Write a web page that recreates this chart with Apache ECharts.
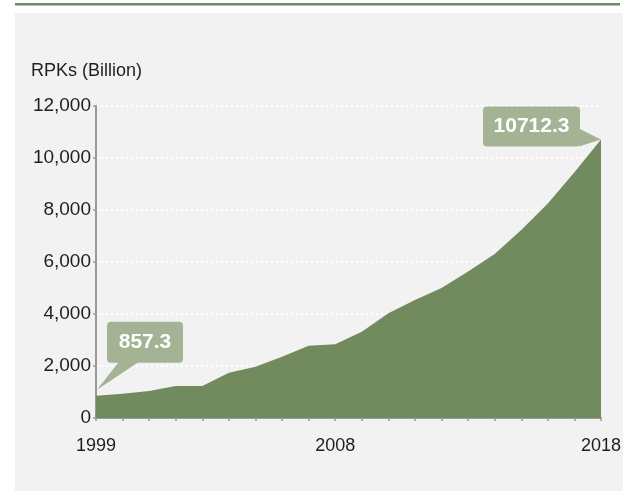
<!DOCTYPE html>
<html>
<head>
<meta charset="utf-8">
<script src="https://cdn.jsdelivr.net/npm/echarts@6/dist/echarts.min.js"></script>
<style>
  html, body { margin: 0; padding: 0; background: #ffffff; }
  #chart { width: 623px; height: 491px; }
</style>
</head>
<body>
<div id="chart"></div>
<script>
// Revenue passenger kilometres by year
const years = ['1999','2000','2001','2002','2003','2004','2005','2006','2007','2008',
               '2009','2010','2011','2012','2013','2014','2015','2016','2017','2018'];
const rpk = [857.3, 935, 1040, 1230, 1235, 1745, 1975, 2360, 2780, 2835,
             3320, 4025, 4540, 5000, 5630, 6310, 7230, 8250, 9450, 10712.3];
const yTicks = [0, 2000, 4000, 6000, 8000, 10000, 12000];
const shownYears = ['1999', '2008', '2018'];

const green = '#718a5e';
const calloutFill = '#a3b394';
const font = '"Liberation Sans", Arial, sans-serif';

const chart = echarts.init(document.getElementById('chart'), null, { renderer: 'canvas' });

const option = {
  animation: false,
  backgroundColor: '#ffffff',
  title: {
    text: 'RPKs (Billion)',
    left: 26, top: 57,
    textStyle: { color: '#1e1e1e', fontFamily: font, fontSize: 18, fontWeight: 'normal' }
  },
  grid: { left: 96, right: 22, top: 106, bottom: 73, outerBoundsMode: 'none' },
  xAxis: {
    type: 'category',
    data: years,
    boundaryGap: false,
    axisLine: { show: true, lineStyle: { color: '#999999', width: 2 } },
    axisTick: { show: true, interval: 0, length: 3, lineStyle: { color: '#999999', width: 1.5 } },
    axisLabel: {
      interval: 0,
      formatter: v => (shownYears.includes(v) ? v : ''),
      color: '#1e1e1e', fontFamily: font, fontSize: 18, margin: 19
    },
    splitLine: { show: false }
  },
  yAxis: {
    type: 'value',
    min: yTicks[0],
    max: yTicks[yTicks.length - 1],
    interval: yTicks[1] - yTicks[0],
    axisLine: { show: true, lineStyle: { color: '#999999', width: 2 } },
    axisTick: { show: true, length: 3, lineStyle: { color: '#999999', width: 1.5 } },
    axisLabel: {
      color: '#1e1e1e', fontFamily: font, fontSize: 19, margin: 5,
      formatter: v => v.toLocaleString('en-US')
    },
    splitLine: { show: true, lineStyle: { color: '#ffffff', width: 2, type: [2, 3] } }
  },
  series: [{
    type: 'line',
    data: rpk,
    symbol: 'none',
    lineStyle: { width: 0 },
    areaStyle: { color: green, opacity: 1 },
    z: 1
  }]
};
chart.setOption(option);

// Callout bubbles for the first and last values, anchored to their points
function callout(idx, dx, dy, w, h, tail) {
  const p = chart.convertToPixel({ xAxisIndex: 0, yAxisIndex: 0 }, [idx, rpk[idx]]);
  const bx = p[0] + dx, by = p[1] + dy;
  const pts = tail(bx, by, w, h, p);
  return [
    { type: 'polygon', shape: { points: pts }, style: { fill: calloutFill }, z: 10 },
    { type: 'rect', shape: { x: bx, y: by, width: w, height: h, r: 4 }, style: { fill: calloutFill }, z: 10 },
    {
      type: 'text', x: bx + w / 2, y: by + h / 2, z: 11,
      style: {
        text: String(rpk[idx]), fill: '#ffffff', font: 'bold 21px ' + font,
        align: 'center', verticalAlign: 'middle'
      }
    }
  ];
}

const first = 0, last = rpk.length - 1;
chart.setOption({
  graphic: [
    ...callout(first, 11, -74, 76, 41, (bx, by, w, h, p) => [[bx + 12, by + h - 1], [bx + 32, by + h - 1], [p[0] + 1, p[1] - 6]]),
    ...callout(last, -118, -33, 97, 40, (bx, by, w, h, p) => [[bx + w - 1, by + 22], [bx + w - 1, by + h], [p[0], p[1]]]),
    // panel behind the chart and the rule above it
    { type: 'rect', shape: { x: 15, y: 13, width: 608, height: 478 }, style: { fill: '#f2f2f2' }, z: -10 },
    { type: 'rect', shape: { x: 15, y: 3, width: 605, height: 2.5 }, style: { fill: '#6e8a5e' }, z: -10 }
  ]
});
</script>
</body>
</html>
